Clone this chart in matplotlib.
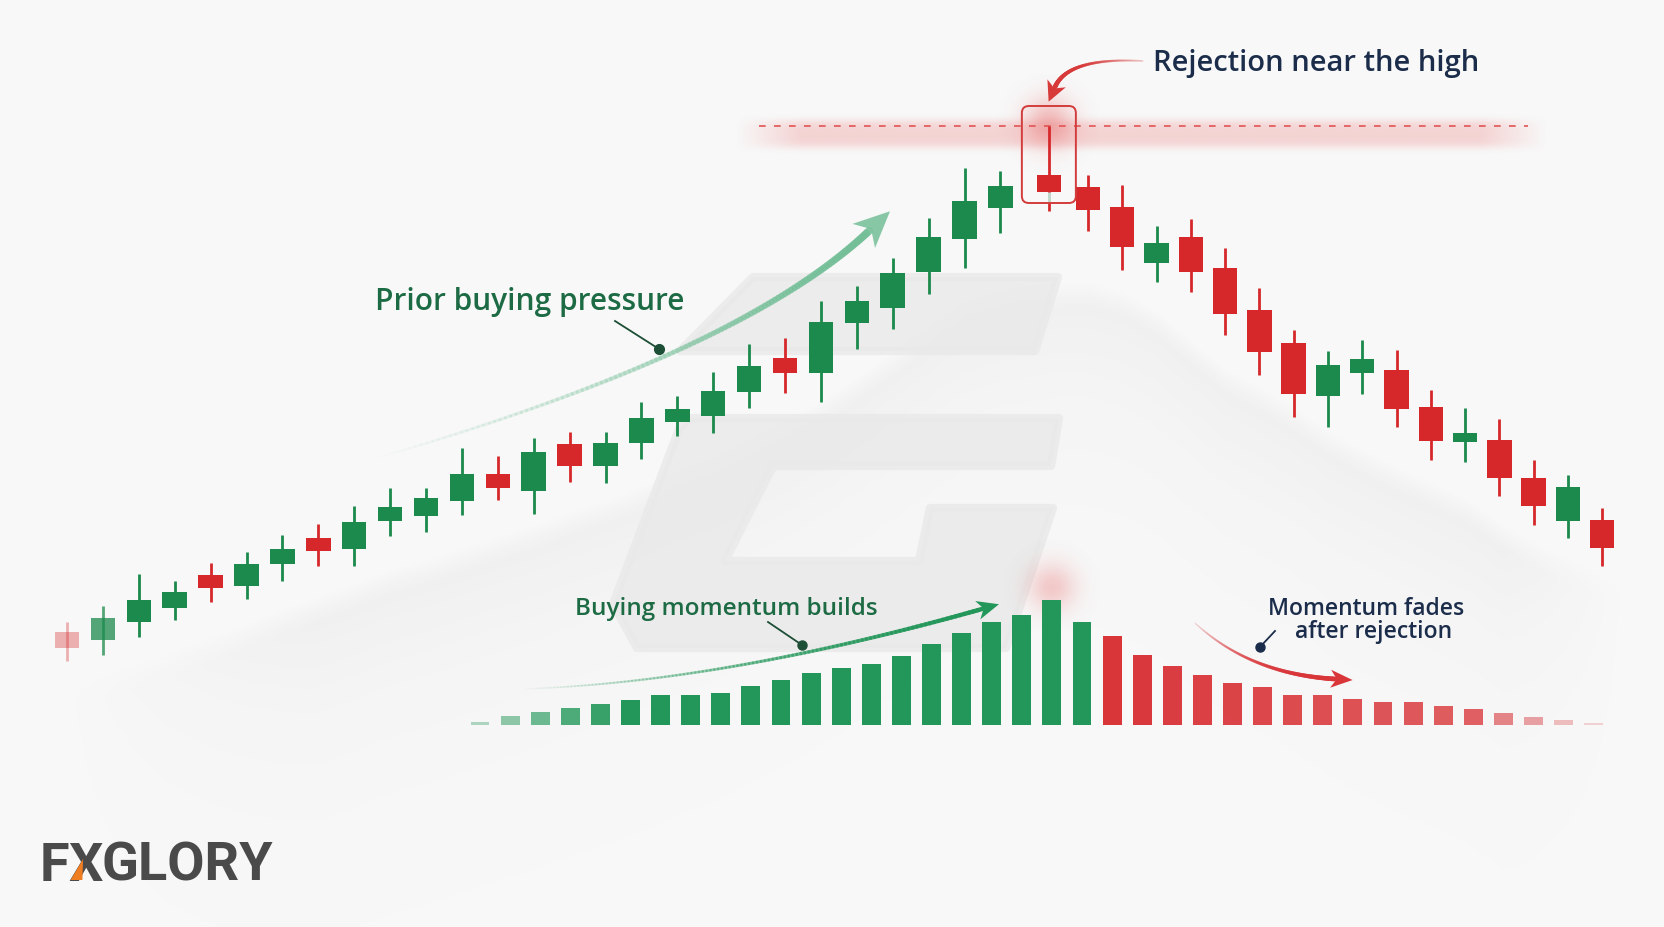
import numpy as np
import matplotlib
matplotlib.use("Agg")
import matplotlib.pyplot as plt
from matplotlib.collections import LineCollection
from matplotlib.patches import Polygon, FancyBboxPatch
from matplotlib.colors import to_rgb

# ---- candle data (price points) ----
opens  = [295, 287, 305, 319, 352, 341, 363, 389, 378, 406, 411, 426, 453, 436, 483,
          461, 484, 505, 511, 535, 569, 554, 604, 619, 655, 688, 719, 752, 740, 720,
          664, 690, 659, 617, 584, 531, 554, 557, 520, 485, 487, 449, 406, 407]
highs  = [305, 321, 353, 346, 364, 375, 392, 403, 421, 439, 439, 479, 471, 489, 495,
          495, 525, 531, 555, 583, 589, 626, 641, 669, 709, 759, 756, 801, 752, 742,
          701, 708, 679, 639, 597, 576, 587, 577, 537, 519, 508, 467, 452, 419]
lows   = [266, 272, 290, 307, 325, 328, 346, 361, 361, 391, 395, 412, 427, 413, 445,
          444, 468, 491, 494, 519, 534, 525, 578, 598, 633, 659, 694, 716, 696, 657,
          645, 635, 592, 552, 510, 500, 533, 500, 467, 465, 431, 402, 389, 361]
closes = [279, 309, 327, 335, 339, 363, 378, 376, 405, 420, 429, 453, 439, 475, 461,
          484, 509, 518, 536, 561, 554, 605, 626, 654, 690, 726, 741, 735, 717, 680,
          684, 655, 613, 575, 533, 562, 568, 518, 486, 494, 449, 421, 440, 379]
REJECT = 27  # rejection candle index

# ---- momentum histogram ----
buy_momentum  = [3, 9, 13, 17, 21, 25, 30, 30, 32, 39, 45, 52, 57, 61, 69, 81, 92,
                 103, 110, 125, 103]
sell_momentum = [89, 70, 59, 50, 42, 38, 30, 30, 26, 23, 23, 19, 16, 12, 8, 5, 2]

# ---- layout (pixels of the 1664x928 canvas) ----
W, H = 1664, 928
CX0, CSTEP = 67, 35.9         # first candle / candle spacing
HX0, HSTEP, HBASE = 480, 30.1, 726

GREEN, RED = "#1c8a4c", "#d6282b"
HGREEN, HRED = "#23975a", "#d9363a"
DKGREEN, NAVY = "#1d6b44", "#1b2d4b"
FONT = ["Open Sans", "DejaVu Sans"]

fig = plt.figure(figsize=(W / 100, H / 100), dpi=100)
fig.patch.set_facecolor("#f8f8f8")


def px_axes():
    ax = fig.add_axes([0, 0, 1, 1])
    ax.set_xlim(0, W)
    ax.set_ylim(H, 0)
    ax.axis("off")
    return ax


def glow(ax, cx, cy, r, color, amax, z=0):
    g = np.linspace(-1, 1, 101)
    xx, yy = np.meshgrid(g, g)
    img = np.zeros((101, 101, 4))
    img[..., :3] = to_rgb(color)
    img[..., 3] = amax * np.exp(-(xx ** 2 + yy ** 2) * 4)
    ax.imshow(img, extent=[cx - r, cx + r, cy + r, cy - r], interpolation="bilinear",
              zorder=z, aspect="auto")


def fade_arrow(ax, p0, c, p2, color, w0, w1, a0, a1, head_len, head_w, z=5):
    p0, c, p2 = map(np.asarray, (p0, c, p2))
    t = np.linspace(0, 1, 120)[:, None]
    pts = (1 - t) ** 2 * p0 + 2 * (1 - t) * t * c + t ** 2 * p2
    segs = np.stack([pts[:-1], pts[1:]], axis=1)
    rgb = to_rgb(color)
    cols = [(*rgb, a) for a in np.linspace(a0, a1, len(segs))]
    ax.add_collection(LineCollection(segs, colors=cols, linewidths=np.linspace(w0, w1, len(segs)),
                                     capstyle="round", zorder=z))
    d = (p2 - c) / np.linalg.norm(p2 - c)
    n = np.array([-d[1], d[0]])
    tip = p2 + d * head_len * 0.8
    base = tip - d * head_len
    head = [tip, base + n * head_w / 2, base + d * head_len * 0.28, base - n * head_w / 2]
    ax.add_patch(Polygon(head, closed=True, facecolor=(*rgb, a1), edgecolor="none", zorder=z))


o, h, l, c = map(np.asarray, (opens, highs, lows, closes))
n = len(o)
idx = np.arange(n)
# slot positions: a little extra room around the rejection candle
xi = idx.astype(float)
xi[REJECT] += 0.35
xi[REJECT + 1:] = 28.44 + (idx[REJECT + 1:] - REJECT - 1) * 0.955
up = c >= o

# ---------------- background decoration ----------------
axb = px_axes()

# soft grey haze under the price path
cx_px = CX0 + CSTEP * xi
sm = np.convolve(np.pad(l, 3, mode="edge"), np.ones(7) / 7, mode="valid")
gx = np.arange(0, W, 4)
gy = np.arange(0, H, 4)[:, None]
top = H - np.interp(gx, cx_px, sm) + 25
dy = gy - top[None, :]
edge = np.clip((gx - 60) / 250, 0, 1) * np.clip((W - 40 - gx) / 120, 0, 1)
haze = np.zeros((len(gy), len(gx), 4))
haze[..., :3] = to_rgb("#8c8c8c")
haze[..., 3] = 0.09 * np.clip(dy / 25, 0, 1) * np.exp(-np.clip(dy, 0, None) / 110) * edge
axb.imshow(haze, extent=[0, W, H, 0], interpolation="bilinear", zorder=0, aspect="auto")

wm = dict(facecolor="#e9e9e9", edgecolor="#e9e9e9", lw=6, joinstyle="round", alpha=0.8, zorder=1)
axb.add_patch(Polygon([(753, 278), (1058, 278), (1035, 352), (680, 352)], **wm))
axb.add_patch(Polygon([(690, 419), (1059, 419), (1051, 467), (773, 467), (725, 562), (919, 562),
                       (930, 509), (1053, 509), (1006, 649), (637, 649), (613, 605), (679, 430)], **wm))

# pink resistance band
ny, nx = 80, 400
yy = np.linspace(-1, 1, ny)[:, None]
xx = np.linspace(0, 1, nx)[None, :]
band = np.zeros((ny, nx, 4))
band[..., :3] = to_rgb("#ee8c8c")
band[..., 3] = 0.34 * np.exp(-(yy / 0.62) ** 4) * np.clip(np.minimum(xx, 1 - xx) / 0.08, 0, 1)
axb.imshow(band, extent=[735, 1548, 158, 112], interpolation="bilinear", zorder=2, aspect="auto")

rej_px = cx_px[REJECT]
glow(axb, rej_px, 124, 50, "#e64545", 0.35, z=3)
glow(axb, HX0 + HSTEP * (len(buy_momentum) - 2), 588, 48, "#e64545", 0.26, z=3)

# ---------------- candles ----------------
axc = fig.add_axes([0, 0, 1, 1])
axc.set_xlim(-CX0 / CSTEP, (W - CX0) / CSTEP)
axc.set_ylim(0, H)
axc.axis("off")

alphas = np.ones(n)
alphas[:2] = [0.35, 0.75]
for i in range(n):
    col = GREEN if up[i] else RED
    axc.vlines(xi[i], l[i], h[i], color=col, lw=2.0, alpha=alphas[i], zorder=3)
    axc.bar(xi[i], abs(c[i] - o[i]), bottom=min(o[i], c[i]), width=0.68, color=col,
            alpha=alphas[i], zorder=4, lw=0)
# pale lower shadow of the rejection candle inside the box
axc.vlines(xi[REJECT], c[REJECT] - 11, c[REJECT], color="#c3d6cb", lw=2.2, zorder=3.5)

# resistance level at the rejection high
to_idx = lambda px: (px - CX0) / CSTEP
axc.hlines(h[REJECT], to_idx(759), to_idx(1528), colors="#e05555", linestyles=(0, (4, 5)),
           lw=1.2, zorder=2)

# ---------------- momentum histogram ----------------
axh = fig.add_axes([0, 0, 1, 1])
axh.set_xlim(-HX0 / HSTEP, (W - HX0) / HSTEP)
axh.set_ylim(-(H - HBASE), HBASE)
axh.axis("off")
mom = np.array(buy_momentum + sell_momentum)
nb = len(buy_momentum)
halpha = np.ones(len(mom))
halpha[:5] = [0.35, 0.5, 0.65, 0.8, 0.9]
halpha[nb:] = np.linspace(1.0, 0.72, len(sell_momentum))
halpha[-4:] = [0.6, 0.45, 0.3, 0.2]
for j, v in enumerate(mom):
    axh.bar(j, v, width=0.63, color=HGREEN if j < nb else HRED, alpha=halpha[j], lw=0, zorder=3)

# ---------------- annotations ----------------
axo = px_axes()

# prior buying pressure arrow
fade_arrow(axo, (373, 460), (738, 355), (869, 232), "#74bf98", 1.5, 5.5, 0.0, 0.85, 36, 33)
axo.text(530, 302, "Prior buying pressure", ha="center", va="center", fontsize=21.5,
         color=DKGREEN, fontweight="semibold", family=FONT)
axo.plot([615, 659], [322, 350], color="#1d4e36", lw=1.3, zorder=6)
axo.plot(659, 350, "o", ms=7, color="#1d4e36", zorder=6)

# rejection highlight
axo.add_patch(FancyBboxPatch((rej_px - 27, 107), 54, 97,
                             boxstyle="round,pad=0,rounding_size=7",
                             fc="none", ec="#d23c3c", lw=1.4, zorder=6))
fade_arrow(axo, (1143, 62), (1068, 58), (1055, 88), "#d83a3a", 1.2, 3.2, 0.15, 1.0, 20, 20)
axo.text(1153, 64, "Rejection near the high", ha="left", va="center", fontsize=21,
         color=NAVY, fontweight="semibold", family=FONT)

# buying momentum builds
fade_arrow(axo, (520, 690), (720, 684), (982, 610), "#23975a", 1.0, 3.2, 0.0, 1.0, 22, 19)
axo.text(726, 609, "Buying momentum builds", ha="center", va="center", fontsize=17.5,
         color=DKGREEN, fontweight="semibold", family=FONT)
axo.plot([768, 802], [623, 646], color="#1d4e36", lw=1.3, zorder=6)
axo.plot(802, 646, "o", ms=6.5, color="#1d4e36", zorder=6)

# momentum fades
fade_arrow(axo, (1195, 624), (1250, 675), (1335, 680), "#d9363a", 1.0, 3.4, 0.1, 1.0, 22, 18)
axo.text(1366, 609, "Momentum fades", ha="center", va="center", fontsize=16.5,
         color=NAVY, fontweight="semibold", family=FONT)
axo.text(1374, 632, "after rejection", ha="center", va="center", fontsize=16.5,
         color=NAVY, fontweight="semibold", family=FONT)
axo.plot([1275, 1260], [632, 648], color=NAVY, lw=1.3, zorder=6)
axo.plot(1260, 648, "o", ms=6.5, color=NAVY, zorder=6)

# ---------------- logo ----------------
r = fig.canvas.get_renderer()
xpos = 40
for part in ["F", "X", "GLORY"]:
    t = axo.text(xpos, 881, part, ha="left", va="baseline", fontsize=39, fontweight="bold",
                 color="#4a4a4a", family=["Roboto", "DejaVu Sans"])
    bb = t.get_window_extent(renderer=r)
    if part == "X":
        x0, x1 = bb.x0, bb.x1
        w = x1 - x0
        axo.add_patch(Polygon([(x0 + 0.06 * w, 881), (x0 + 0.40 * w, 881), (x0 + 0.42 * w, 860)],
                              facecolor="#ef7d22", edgecolor="none", zorder=7))
    xpos += bb.width - 1

fig.savefig("out.png", dpi=100, facecolor=fig.get_facecolor())
